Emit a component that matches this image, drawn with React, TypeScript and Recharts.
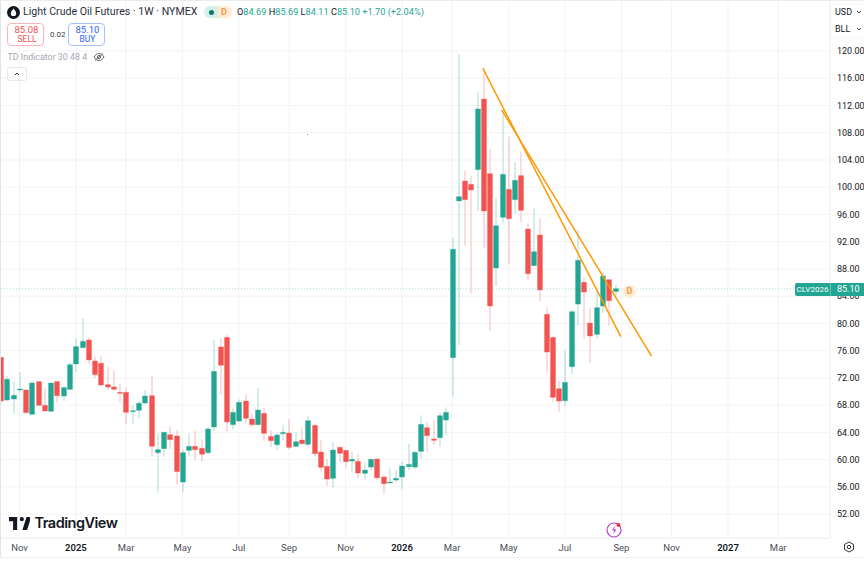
import React from 'react';
import { ComposedChart, Bar, XAxis, YAxis, CartesianGrid, ReferenceLine } from 'recharts';

// weekly candles, oldest first
const opens = [
  75.02, 68.75, 68.90, 70.22, 70.22, 66.65, 71.45, 67.97, 67.09, 71.45,
  69.34, 70.32, 74.04, 76.44, 77.57, 74.48, 74.14, 71.01, 70.66, 69.88,
  69.88, 67.04, 67.24, 68.31, 69.39, 61.02, 61.61, 63.66, 63.47, 56.71,
  61.36, 61.95, 61.66, 61.02, 64.79, 76.54, 77.95, 65.13, 65.67, 68.60,
  65.96, 65.13, 66.79, 63.41, 62.19, 63.81, 63.90, 61.95, 62.88, 62.24,
  65.03, 61.11, 59.01, 57.25, 61.80, 61.36, 59.79, 59.74, 57.98, 58.91,
  60.09, 57.44, 56.61, 57.00, 57.44, 58.96, 58.91, 61.21, 64.69, 63.03,
  63.22, 65.81, 74.97, 97.98, 100.91, 100.42, 102.58, 112.95, 101.99, 88.14,
  95.58, 99.69, 98.17, 101.70, 93.86, 88.48, 92.98, 81.33, 77.95, 70.41,
  68.65, 73.64, 82.84, 86.03, 80.05, 78.39, 82.55, 86.42, 84.69,
];
const highs = [
  75.02, 72.28, 71.45, 72.87, 70.37, 71.54, 71.54, 70.47, 71.30, 71.54,
  70.81, 74.24, 77.81, 80.75, 77.91, 75.12, 75.22, 73.65, 73.16, 71.20,
  70.57, 67.97, 68.61, 70.22, 72.28, 63.86, 64.01, 64.84, 64.35, 61.41,
  63.86, 64.20, 63.03, 64.84, 77.57, 77.80, 78.34, 67.53, 68.85, 69.63,
  66.79, 70.51, 67.67, 64.34, 63.95, 65.08, 65.96, 64.00, 64.74, 66.40,
  65.32, 62.88, 60.09, 62.58, 62.04, 61.41, 61.21, 60.77, 59.60, 60.15,
  60.18, 57.83, 58.86, 58.47, 59.69, 62.29, 61.26, 66.50, 65.47, 65.81,
  66.89, 67.67, 92.59, 119.46, 102.43, 101.65, 113.93, 117.46, 105.56, 98.37,
  111.34, 107.42, 103.65, 105.22, 94.70, 96.90, 95.43, 82.36, 78.05, 71.54,
  75.99, 81.96, 93.71, 86.76, 82.31, 84.66, 87.59, 86.47, 85.69,
];
const lows = [
  68.30, 68.51, 66.70, 69.83, 66.80, 66.60, 67.87, 67.09, 67.04, 68.41,
  68.61, 70.22, 72.87, 76.34, 74.04, 71.94, 70.71, 70.22, 70.13, 68.36,
  65.23, 65.23, 66.06, 68.12, 60.44, 55.15, 60.44, 61.56, 56.37, 55.29,
  60.44, 59.94, 59.75, 60.78, 64.25, 69.49, 64.10, 64.49, 65.47, 65.32,
  64.69, 65.08, 62.73, 61.90, 61.41, 62.88, 61.51, 61.80, 62.24, 61.80,
  60.43, 58.23, 56.17, 55.93, 59.55, 58.86, 58.08, 57.34, 57.10, 58.37,
  57.00, 55.00, 56.51, 56.66, 55.73, 58.47, 58.62, 60.13, 61.11, 62.14,
  61.90, 63.66, 69.25, 76.83, 91.42, 84.42, 96.51, 91.02, 78.93, 85.49,
  94.70, 88.68, 96.16, 94.79, 86.37, 88.43, 83.19, 72.76, 68.50, 67.03,
  67.87, 72.56, 79.61, 77.80, 74.23, 77.80, 81.57, 79.66, 84.11,
];
const closes = [
  68.61, 71.79, 69.44, 70.37, 66.89, 71.25, 67.97, 67.14, 71.25, 69.39,
  70.57, 73.94, 76.59, 77.37, 74.63, 72.48, 70.96, 70.66, 70.32, 69.73,
  66.94, 67.19, 68.27, 69.34, 61.95, 61.46, 64.01, 62.93, 58.23, 61.02,
  61.95, 61.46, 60.78, 64.50, 72.96, 73.85, 65.52, 66.94, 68.41, 66.06,
  65.13, 67.28, 63.86, 62.78, 63.61, 64.00, 61.80, 62.63, 62.34, 65.72,
  60.87, 58.86, 57.15, 61.41, 60.92, 59.69, 60.04, 58.03, 58.47, 60.04,
  57.34, 56.46, 56.71, 57.25, 59.06, 59.30, 61.07, 65.18, 63.51, 62.83,
  66.45, 66.94, 90.88, 98.61, 98.17, 99.59, 111.49, 96.51, 82.56, 94.35,
  101.89, 95.38, 101.01, 96.60, 87.30, 90.53, 84.91, 75.80, 69.14, 68.60,
  71.34, 81.72, 89.26, 84.61, 78.15, 82.31, 86.96, 83.33, 85.10,
];

const monthTicks = [3, 12, 20, 29, 38, 46, 55, 64, 72, 81, 90, 99, 107, 116, 124];
const monthLabels = ['Nov', '2025', 'Mar', 'May', 'Jul', 'Sep', 'Nov', '2026', 'Mar', 'May', 'Jul', 'Sep', 'Nov', '2027', 'Mar'];
const priceTicks = [52, 56, 60, 64, 68, 72, 76, 80, 84, 88, 92, 96, 100, 104, 108, 112, 116, 120];

const lastPrice = 85.1;
// the two hand drawn trend lines: [week, price] at each end
const trendA = [[76.9, 117.46], [98.9, 78.05]];
const trendB = [[79.9, 111.34], [103.8, 75.2]];

const UP = '#22A592';
const DOWN = '#F35350';
const GRID = '#F2F3F5';
const FONT = 'Roboto, "Noto Sans", sans-serif';

const candles = opens.map((open, i) => ({
  week: i,
  open,
  high: highs[i],
  low: lows[i],
  close: closes[i],
}));

const Candle = (props: any) => {
  const { x, y, width, height, payload } = props;
  const { open, close, high, low } = payload;
  const color = close >= open ? UP : DOWN;
  const perUnit = height / (high - low);
  const bodyTop = y + (high - Math.max(open, close)) * perUnit;
  const bodyH = Math.max(Math.abs(open - close) * perUnit, 1);
  const cx = Math.round(x + width / 2);
  return (
    <g>
      <line x1={cx} x2={cx} y1={y} y2={y + height} stroke={color} strokeOpacity={0.4} strokeWidth={1} />
      <rect x={cx - 2.5} y={bodyTop} width={5} height={bodyH} fill={color} stroke={color} strokeOpacity={0.3} strokeWidth={1} />
    </g>
  );
};

const MonthTick = ({ x, y, payload }: any) => {
  const label = monthLabels[monthTicks.indexOf(payload.value)];
  const isYear = label && label.startsWith('20');
  return (
    <text
      x={x}
      y={y + 3}
      textAnchor="middle"
      dominantBaseline="central"
      fontSize={9.5}
      fontFamily={FONT}
      fontWeight={isYear ? 600 : 400}
      fill={isYear ? '#131722' : '#4a4e59'}
    >
      {label}
    </text>
  );
};

const box = (left: number, top: number, width: number, height: number, extra: React.CSSProperties = {}): React.CSSProperties => ({
  position: 'absolute', left, top, width, height, boxSizing: 'border-box', ...extra,
});

const Label = ({ left, top, size = 9.5, color = '#131722', weight = 400, children }: any) => (
  <div style={{ position: 'absolute', left, top, fontSize: size, color, fontWeight: weight, lineHeight: '12px', whiteSpace: 'nowrap' }}>
    {children}
  </div>
);

const Chevron = ({ left, top }: any) => (
  <svg style={{ position: 'absolute', left, top }} width="6" height="4" viewBox="0 0 6 4">
    <path d="M1 1l2 2 2-2" fill="none" stroke="#444" strokeWidth="1" />
  </svg>
);

const Header = () => (
  <>
    <svg style={{ position: 'absolute', left: 7, top: 6 }} width="13" height="13" viewBox="0 0 13 13">
      <circle cx="6.5" cy="6.5" r="6.5" fill="#131722" />
      <path d="M6.5 2.6c1.5 2 2.7 3.3 2.7 4.8a2.7 2.7 0 0 1-5.4 0c0-1.5 1.2-2.8 2.7-4.8z" fill="#fff" />
    </svg>
    <Label left={23} top={6} size={10.6} color="#2a2e39">Light Crude Oil Futures · 1W · NYMEX</Label>
    <div style={box(204, 6, 14, 12, { background: '#D5EFEA', borderRadius: '6px 0 0 6px' })} />
    <div style={box(218, 6, 14, 12, { background: '#FDEBD3', borderRadius: '0 6px 6px 0' })} />
    <div style={box(209, 9.5, 5, 5, { background: '#0B7A68', borderRadius: 3 })} />
    <Label left={221} top={6} size={9} color="#F2994A" weight={700}>D</Label>
    <Label left={237} top={6} size={9.2}>
      O<span style={{ color: UP }}>84.69</span> H<span style={{ color: UP }}>85.69</span> L<span style={{ color: UP }}>84.11</span> C<span style={{ color: UP }}>85.10 +1.70 (+2.04%)</span>
    </Label>

    <div style={box(7, 23, 37, 23, { background: '#fff', border: '1px solid #F9B3B9', borderRadius: 4 })} />
    <Label left={14.5} top={23.5} size={9.5} color={DOWN}>85.08</Label>
    <Label left={17.5} top={33} size={8.5} color={DOWN}>SELL</Label>
    <Label left={50} top={28.5} size={8} color="#3b3f4a">0.02</Label>
    <div style={box(68, 23, 37, 23, { background: '#fff', border: '1px solid #A6BFFB', borderRadius: 4 })} />
    <Label left={75.5} top={23.5} size={9.5} color="#2962FF">85.10</Label>
    <Label left={79.5} top={33} size={8.5} color="#2962FF">BUY</Label>

    <Label left={7.5} top={51} size={8.9} color="#a3a6af">TD Indicator 30 48 4</Label>
    <svg style={{ position: 'absolute', left: 93, top: 52 }} width="12" height="10" viewBox="0 0 12 10">
      <path d="M1 5c1.5-2.5 3-3.5 5-3.5S9.5 2.5 11 5c-1.5 2.5-3 3.5-5 3.5S2.5 7.5 1 5z" fill="none" stroke="#666" strokeWidth="1" />
      <circle cx="6" cy="5" r="1.6" fill="none" stroke="#666" strokeWidth="1" />
      <path d="M2 8.5L10 1.5" stroke="#666" strokeWidth="1" />
    </svg>
    <div style={box(7, 67, 20, 14, { background: '#fff', border: '1px solid #E5E7EB', borderRadius: 3 })} />
    <svg style={{ position: 'absolute', left: 14, top: 72 }} width="6" height="4" viewBox="0 0 6 4">
      <path d="M1 3l2-2 2 2" fill="none" stroke="#333" strokeWidth="1" />
    </svg>
  </>
);

const PriceScale = () => (
  <>
    <div style={box(832, 5, 32, 32, { background: '#fff', borderRadius: 3, boxShadow: '0 0 2px #e6e6e6' })} />
    <Label left={835} top={6} size={9}>USD</Label>
    <Chevron left={856} top={10} />
    <Label left={835} top={23} size={9}>BLL</Label>
    <Chevron left={856} top={27} />
    <div style={box(795, 283, 35, 13, { background: UP, borderRadius: '2px 0 0 2px', color: '#fff', fontSize: 8, textAlign: 'center', lineHeight: '13px' })}>CLV2026</div>
    <div style={box(830, 283, 34, 13, { background: UP, color: '#fff', fontSize: 9, paddingLeft: 6, lineHeight: '13px', borderLeft: '1px solid #5cc2b1' })}>85.10</div>
  </>
);

const Marks = () => (
  <>
    <div style={box(623, 285, 13, 13, { background: '#FDEBD3', borderRadius: 7, color: '#F2994A', fontSize: 9, fontWeight: 700, textAlign: 'center', lineHeight: '13px' })}>D</div>
    <div style={box(307, 134, 1, 1, { background: '#888' })} />
    <svg style={{ position: 'absolute', left: 606, top: 521 }} width="17" height="17" viewBox="0 0 17 17">
      <circle cx="8" cy="9" r="7" fill="#fff" stroke="#B443C9" strokeWidth="1.2" />
      <path d="M9.5 4.5L6 9.5h2.4L7 13.5l3.6-5H8.2z" fill="#B443C9" />
      <circle cx="12.5" cy="4" r="2" fill="#F23645" />
    </svg>
    <svg style={{ position: 'absolute', left: 9, top: 517 }} width="21" height="13" viewBox="0 0 36 22">
      <path d="M14 0H0v7h7v15h7V0zm17 22h-8l7-22h8l-7 22zM22 7a3.5 3.5 0 1 0 0-7 3.5 3.5 0 0 0 0 7z" fill="#131722" />
    </svg>
    <div style={{ position: 'absolute', left: 34.5, top: 514, fontSize: 14.5, fontWeight: 600, color: '#131722', fontFamily: 'Inter, sans-serif', lineHeight: '18px', letterSpacing: -0.5 }}>TradingView</div>
    <svg style={{ position: 'absolute', left: 843, top: 541 }} width="12" height="12" viewBox="0 0 12 12">
      <path d="M6 1l4.5 2.5v5L6 11 1.5 8.5v-5z" fill="none" stroke="#333" strokeWidth="1" />
      <circle cx="6" cy="6" r="1.7" fill="none" stroke="#333" strokeWidth="1" />
    </svg>
    <div style={box(0, 557, 864, 1, { background: '#EEF0F3' })} />
    <div style={box(0, 0, 1, 557, { background: '#E2E3E6' })} />
    <div style={box(0, 0, 864, 1, { background: '#EBECEE' })} />
  </>
);

export default function App() {
  return (
    <div style={{ position: 'absolute', left: 0, top: 0, width: 864, height: 563, overflow: 'hidden', background: '#fff', fontFamily: FONT }}>
      <ComposedChart
        width={864}
        height={563}
        data={candles}
        margin={{ top: 0, right: 0, bottom: 7, left: 0 }}
      >
        <CartesianGrid stroke={GRID} strokeWidth={1} />
        <XAxis
          dataKey="week"
          type="number"
          domain={[-0.11, 132.26]}
          allowDataOverflow
          ticks={monthTicks}
          interval={0}
          height={18}
          tick={<MonthTick />}
          tickLine={false}
          tickMargin={0}
          axisLine={{ stroke: '#EEF0F3' }}
        />
        <YAxis
          orientation="right"
          type="number"
          domain={[48.49, 127.49]}
          allowDataOverflow
          ticks={priceTicks}
          interval={0}
          width={34}
          tickFormatter={(v: number) => v.toFixed(2)}
          tick={{ fontSize: 9, fill: '#131722', fontFamily: FONT }}
          tickLine={false}
          tickMargin={1}
          axisLine={{ stroke: '#EEF0F3' }}
        />
        <ReferenceLine y={lastPrice} stroke={UP} strokeOpacity={0.35} strokeDasharray="1 2" />
        <Bar
          dataKey={(d: any) => [d.low, d.high]}
          barSize={5}
          shape={<Candle />}
          isAnimationActive={false}
        />
        <ReferenceLine
          segment={trendA.map(([x, y]) => ({ x, y }))}
          stroke="#FF9800"
          strokeWidth={1.5}
          ifOverflow="visible"
        />
        <ReferenceLine
          segment={trendB.map(([x, y]) => ({ x, y }))}
          stroke="#FF9800"
          strokeWidth={1.5}
          ifOverflow="visible"
        />
      </ComposedChart>
      <Header />
      <PriceScale />
      <Marks />
    </div>
  );
}
